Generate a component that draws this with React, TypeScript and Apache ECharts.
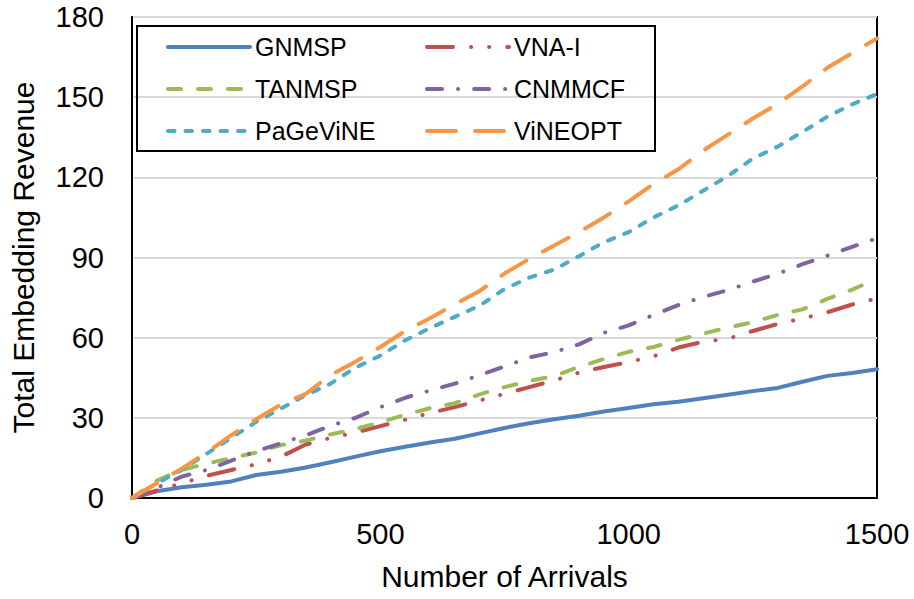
import React, { useEffect, useRef } from "react";
import * as echarts from "echarts";

const arrivals = [0, 50, 100, 150, 200, 250, 300, 350, 400, 450, 500, 550, 600, 650, 700, 750, 800, 850, 900, 950, 1000, 1050, 1100, 1150, 1200, 1250, 1300, 1350, 1400, 1450, 1500];

const gnmsp = [0, 2.5, 4, 5, 6.2, 8.6, 9.8, 11.4, 13.4, 15.5, 17.5, 19.2, 20.8, 22.2, 24.2, 26.2, 28, 29.5, 30.8, 32.4, 33.7, 35.1, 36, 37.3, 38.6, 40, 41.2, 43.5, 45.7, 46.8, 48.2];
const vnai = [0, 2.8, 5.5, 8.3, 10.5, 12.6, 15.5, 20, 22.5, 24.5, 26.9, 29.3, 31.8, 34, 36.5, 39, 41.5, 44, 46.9, 49, 50.9, 53, 56.3, 58.5, 59.6, 62.5, 65.1, 67.2, 69.5, 72.4, 74.7];
const tanmsp = [0, 6.5, 10.5, 12.8, 15, 17, 19.8, 21.5, 23.8, 25.8, 28.3, 31.2, 33.6, 35.5, 38.8, 41.5, 43.8, 45.6, 49.1, 52, 54.7, 56.5, 59.2, 61.5, 63.8, 65.8, 68.5, 70.6, 74.5, 78, 82];
const cnmmcf = [0, 3.8, 8, 10.5, 14, 17.5, 20.5, 23.5, 27, 30, 34, 37.5, 40.2, 42.8, 46, 49.2, 52.6, 54.6, 57.5, 61.8, 64.6, 68.5, 72.2, 75.2, 77.8, 81, 83.9, 87.5, 90.7, 94, 97.2];
const pagevine = [0, 5.5, 10.5, 16.5, 22.5, 28.5, 33.5, 38.5, 42.8, 48.8, 53.3, 59, 63.6, 67.8, 72, 78.2, 82.5, 85.5, 90.5, 95.7, 99.5, 105, 109.5, 115, 120.5, 127, 131.5, 137, 142.7, 147.3, 151.2];
const vineopt = [0, 5.5, 11, 17, 23.5, 29.5, 35, 39, 46, 51, 56.5, 62.5, 67.3, 72.5, 77.5, 84, 89.5, 94.5, 99.5, 105, 111, 117.5, 123, 130, 136, 142, 147.5, 154, 161, 166.5, 172];

const seriesNames = ["GNMSP", "VNA-I", "TANMSP", "CNMMCF", "PaGeViNE", "ViNEOPT"];
const seriesValues = [gnmsp, vnai, tanmsp, cnmmcf, pagevine, vineopt];
const colors = ["#4F81BD", "#C0504D", "#9BBB59", "#8064A2", "#4BACC6", "#F79646"];
const dashes: any[] = [
  "solid",
  [26, 18, 0.1, 18, 0.1, 18],
  [13, 17],
  [15, 16, 0.1, 16],
  [6.5, 11],
  [29, 19],
];

const xTicks = { min: 0, max: 1500, interval: 500 };
const yTicks = { min: 0, max: 180, interval: 30 };

const FONT = "'Liberation Sans', Arial, sans-serif";

export default function App() {
  const ref = useRef<HTMLDivElement>(null);
  useEffect(() => {
    const chart = echarts.init(ref.current!, null, { renderer: "svg" });
    const series = seriesNames.map((name, i) => ({
      name,
      type: "line",
      data: arrivals.map((a, j) => [a, seriesValues[i][j]]),
      showSymbol: false,
      symbol: "none",
      smooth: false,
      color: colors[i],
      lineStyle: {
        color: colors[i],
        width: 4,
        type: dashes[i],
        cap: "round",
        join: "round",
      },
      z: 2 + i,
    }));
    const legendCommon = {
      orient: "vertical",
      top: 27,
      itemWidth: 82,
      itemHeight: 14,
      itemGap: 12,
      itemStyle: { opacity: 0 },
      lineStyle: { width: 4, cap: "round" },
      textStyle: { fontFamily: FONT, fontSize: 25, color: "#000", lineHeight: 30 },
      selectedMode: false,
    };
    chart.setOption({
      animation: false,
      backgroundColor: "#ffffff",
      textStyle: { fontFamily: FONT },
      grid: {
        left: 126,
        right: 37,
        top: 17,
        bottom: 101,
        show: true,
        borderColor: "#000000",
        borderWidth: 2,
        containLabel: false,
      },
      legend: [
        { ...legendCommon, left: 161, data: ["GNMSP", "TANMSP", "PaGeViNE"] },
        { ...legendCommon, left: 420, data: ["VNA-I", "CNMMCF", "ViNEOPT"] },
      ],
      graphic: [
        {
          type: "rect",
          shape: { x: 137, y: 26, width: 518, height: 125 },
          style: { fill: "none", stroke: "#000", lineWidth: 2 },
          z: 10,
        },
      ],
      xAxis: {
        type: "value",
        min: xTicks.min,
        max: xTicks.max,
        interval: xTicks.interval,
        name: "Number of Arrivals",
        nameLocation: "middle",
        nameGap: 63,
        nameTextStyle: { fontFamily: FONT, fontSize: 30, color: "#000" },
        axisLine: { show: true, lineStyle: { color: "#000", width: 2 } },
        axisTick: { show: false },
        splitLine: { show: false },
        axisLabel: {
          fontFamily: FONT,
          fontSize: 29,
          color: "#000",
          margin: 21,
          formatter: (v: number) => String(v),
        },
      },
      yAxis: {
        type: "value",
        min: yTicks.min,
        max: yTicks.max,
        interval: yTicks.interval,
        name: "Total Embedding Revenue",
        nameLocation: "middle",
        nameGap: 94,
        nameTextStyle: { fontFamily: FONT, fontSize: 30, color: "#000" },
        axisLine: { show: true, lineStyle: { color: "#000", width: 2 } },
        axisTick: { show: false },
        splitLine: { show: true, lineStyle: { color: "#D9D9D9", width: 2 } },
        axisLabel: {
          fontFamily: FONT,
          fontSize: 29,
          color: "#000",
          margin: 28,
          formatter: (v: number) => String(v),
        },
      },
      series,
    });
    return () => chart.dispose();
  }, []);
  return (
    <div
      ref={ref}
      style={{ position: "absolute", left: 0, top: 0, width: 914, height: 599 }}
    />
  );
}
